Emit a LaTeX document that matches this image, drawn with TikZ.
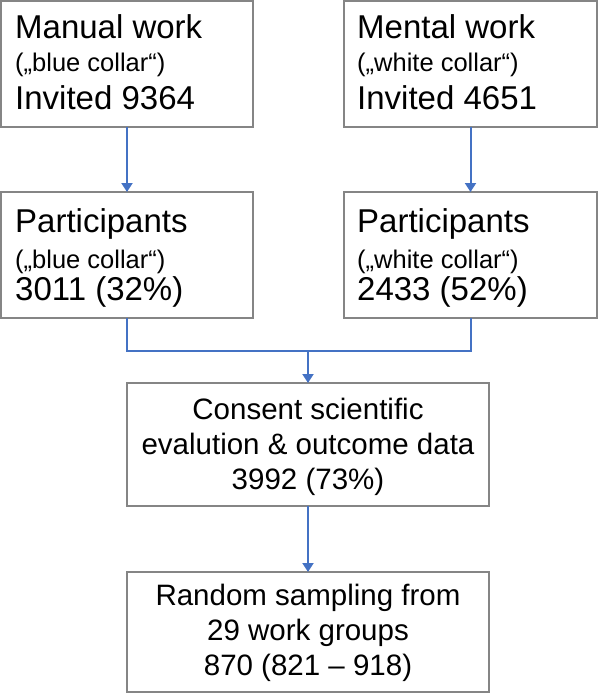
\documentclass[tikz,border=0pt]{standalone}
\usepackage{fontspec}
\setmainfont{Liberation Sans}
\usetikzlibrary{arrows.meta}
\definecolor{boxgray}{HTML}{858585}
\definecolor{connblue}{HTML}{4472C4}
\begin{document}
\begin{tikzpicture}[x=1pt,y=-1pt,
  box/.style={draw=boxgray,line width=2pt,fill=white,inner sep=0pt,outer sep=0pt,anchor=north west},
  big/.style={anchor=base west,inner sep=0pt,font=\fontsize{33}{40}\selectfont},
  small/.style={anchor=base west,inner sep=0pt,font=\fontsize{25.5}{30}\selectfont},
  mid/.style={anchor=base,inner sep=0pt,font=\fontsize{29.5}{35}\selectfont},
  conn/.style={draw=connblue,line width=2pt},
  arr/.style={conn,-{Triangle[width=11pt,length=9pt]}}]
\useasboundingbox (0,0) rectangle (598,693);
% boxes
\node[box,minimum width=252pt,minimum height=126pt] (A) at (1,1) {};
\node[box,minimum width=253pt,minimum height=126pt] (B) at (344,1) {};
\node[box,minimum width=252pt,minimum height=126pt] (C) at (1,192) {};
\node[box,minimum width=253pt,minimum height=126pt] (D) at (344,192) {};
\node[box,minimum width=362pt,minimum height=123pt] (E) at (127,383) {};
\node[box,minimum width=362pt,minimum height=120pt] (F) at (127,572) {};
% texts
\node[big] (a1) at (15,39) {Manual work};
\node[small] (a2) at (15,71) {(„blue collar“)};
\node[big] (a3) at (15,109) {Invited 9364};
\node[big] (b1) at (357,39) {Mental work};
\node[small] (b2) at (357,71) {(„white collar“)};
\node[big] (b3) at (357,109) {Invited 4651};
\node[big] (c1) at (15,232) {Participants};
\node[small] (c2) at (15,268) {(„blue collar“)};
\node[big] (c3) at (15,300) {3011 (32\%)};
\node[big] (d1) at (357,232) {Participants};
\node[small] (d2) at (357,268) {(„white collar“)};
\node[big] (d3) at (357,300) {2433 (52\%)};
\node[mid] (e1) at (308,419) {Consent scientific};
\node[mid] (e2) at (308,454) {evalution \& outcome data};
\node[mid] (e3) at (308,489) {3992 (73\%)};
\node[mid] (f1) at (308,605) {Random sampling from};
\node[mid] (f2) at (308,640) {29 work groups};
\node[mid] (f3) at (308,675) {870 (821 – 918)};
% connectors
\coordinate (j) at (308,351);
\draw[arr] (A.south) -- (C.north);
\draw[arr] (B.south) -- (D.north);
\draw[conn] (C.south) |- (j) -| (D.south);
\draw[arr] (j) -- (E.north);
\draw[arr] (E.south) -- (F.north);
\end{tikzpicture}
\end{document}
